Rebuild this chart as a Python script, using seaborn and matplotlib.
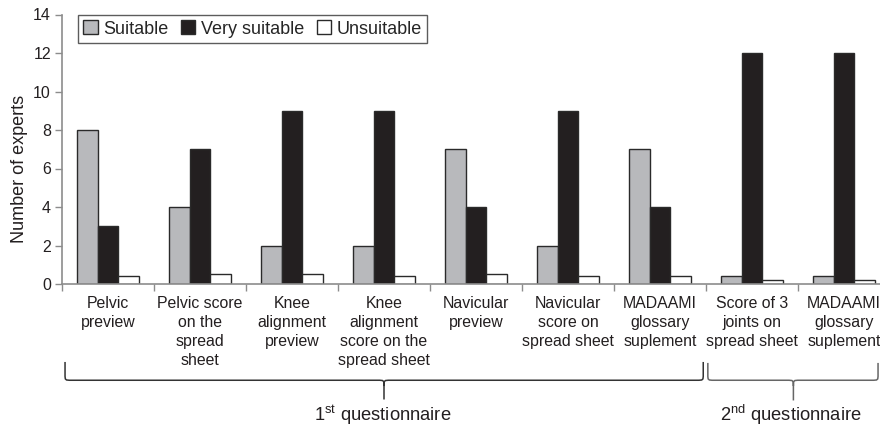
import matplotlib
matplotlib.use("Agg")
import matplotlib.pyplot as plt
import seaborn as sns
import pandas as pd
from matplotlib.path import Path
from matplotlib.patches import PathPatch, Patch

categories = [
    "Pelvic\npreview",
    "Pelvic score\non the\nspread\nsheet",
    "Knee\nalignment\npreview",
    "Knee\nalignment\nscore on the\nspread sheet",
    "Navicular\npreview",
    "Navicular\nscore on\nspread sheet",
    "MADAAMI\nglossary\nsuplement",
    "Score of 3\njoints on\nspread sheet",
    "MADAAMI\nglossary\nsuplement",
]
series_names = ["Suitable", "Very suitable", "Unsuitable"]
suitable = [8, 4, 2, 2, 7, 2, 7, 0.4, 0.4]
very_suitable = [3, 7, 9, 9, 4, 9, 4, 12, 12]
unsuitable = [0.4, 0.5, 0.5, 0.4, 0.5, 0.4, 0.4, 0.2, 0.2]
y_ticks = [0, 2, 4, 6, 8, 10, 12, 14]
group_labels = [r"1$^{\mathregular{st}}$ questionnaire", r"2$^{\mathregular{nd}}$ questionnaire"]

colors = ["#b8b9bc", "#231f20", "#ffffff"]

sns.set_style("white")
plt.rcParams["font.family"] = ["Liberation Sans", "DejaVu Sans"]
plt.rcParams["mathtext.fontset"] = "custom"
plt.rcParams["mathtext.rm"] = "Liberation Sans"

rows = []
for i, c in enumerate(categories):
    cid = f"{i}"
    for name, vals in zip(series_names, [suitable, very_suitable, unsuitable]):
        rows.append({"cat": cid, "series": name, "value": vals[i]})
df = pd.DataFrame(rows)

fig = plt.figure(figsize=(8.8, 4.29), dpi=100)
ax = fig.add_axes([62 / 880, (429 - 284) / 429, 828 / 880, 269.5 / 429])

sns.barplot(data=df, x="cat", y="value", hue="series", hue_order=series_names,
            palette=colors, width=0.67, gap=0, edgecolor="#2a2a2a", linewidth=1.0,
            ax=ax, legend=False, saturation=1)

ax.set_xlim(-0.5, 8.5)
ax.set_ylim(0, 14)
ax.set_yticks(y_ticks)
ax.set_yticklabels([str(t) for t in y_ticks], fontsize=11.5, color="#231f20")
ax.set_xticks(range(len(categories)))
ax.set_xticklabels(categories, fontsize=11.4, color="#231f20", linespacing=1.33, va="top")
ax.set_xticks([i - 0.5 for i in range(len(categories) + 1)], minor=True)
ax.tick_params(axis="x", which="major", length=0, pad=9)
ax.tick_params(axis="x", which="minor", length=5, width=1, color="#8c8c8c", direction="out", bottom=True)
ax.tick_params(axis="y", length=5, width=1, color="#8c8c8c", direction="out", left=True, pad=3)
ax.set_xlabel("")
ax.set_ylabel("Number of experts", fontsize=13, color="#231f20", labelpad=4)
ax.yaxis.set_label_coords(-34 / 828, (284 - 169) / 269.5)

for s in ["top", "right"]:
    ax.spines[s].set_visible(False)
for s in ["left", "bottom"]:
    ax.spines[s].set_color("#8c8c8c")
    ax.spines[s].set_linewidth(1.2)

handles = [Patch(facecolor=c, edgecolor="#2a2a2a", linewidth=1.0) for c in colors]
leg = ax.legend(handles, series_names, ncol=3, loc="upper left",
                bbox_to_anchor=(0.019, 0.998), frameon=True, fancybox=False,
                edgecolor="#333333", fontsize=13, handlelength=0.8, handleheight=0.8,
                handletextpad=0.3, columnspacing=0.7, borderpad=0.3, borderaxespad=0)
leg.get_frame().set_linewidth(1.0)


def brace(x0, x1, xm, ytop, ybot, ytip, color):
    rx, ry = 0.07, 0.3
    verts = [
        (x0, ytop), (x0, ybot + ry),
        (x0, ybot), (x0, ybot), (x0 + rx, ybot),
        (xm - rx, ybot),
        (xm, ybot), (xm, ybot), (xm, ybot - ry),
        (xm, ytip),
        (xm, ybot - ry),
        (xm, ybot), (xm, ybot), (xm + rx, ybot),
        (x1 - rx, ybot),
        (x1, ybot), (x1, ybot), (x1, ybot + ry),
        (x1, ytop),
    ]
    codes = [Path.MOVETO, Path.LINETO,
             Path.CURVE4, Path.CURVE4, Path.CURVE4,
             Path.LINETO,
             Path.CURVE4, Path.CURVE4, Path.CURVE4,
             Path.LINETO,
             Path.MOVETO,
             Path.CURVE4, Path.CURVE4, Path.CURVE4,
             Path.LINETO,
             Path.CURVE4, Path.CURVE4, Path.CURVE4,
             Path.LINETO]
    p = PathPatch(Path(verts, codes), fill=False, edgecolor=color, linewidth=1.1,
                  clip_on=False)
    ax.add_patch(p)


brace(-0.467, 6.47, 3.0, -4.05, -5.0, -6.0, "#333333")
brace(6.52, 8.37, 7.45, -4.1, -5.0, -6.05, "#666666")

ax.text(2.99, -7.1, group_labels[0], ha="center", va="baseline", fontsize=13.2,
        color="#231f20", clip_on=False)
ax.text(7.42, -7.1, group_labels[1], ha="center", va="baseline", fontsize=13.2,
        color="#231f20", clip_on=False)

fig.savefig("out.png", dpi=100)
